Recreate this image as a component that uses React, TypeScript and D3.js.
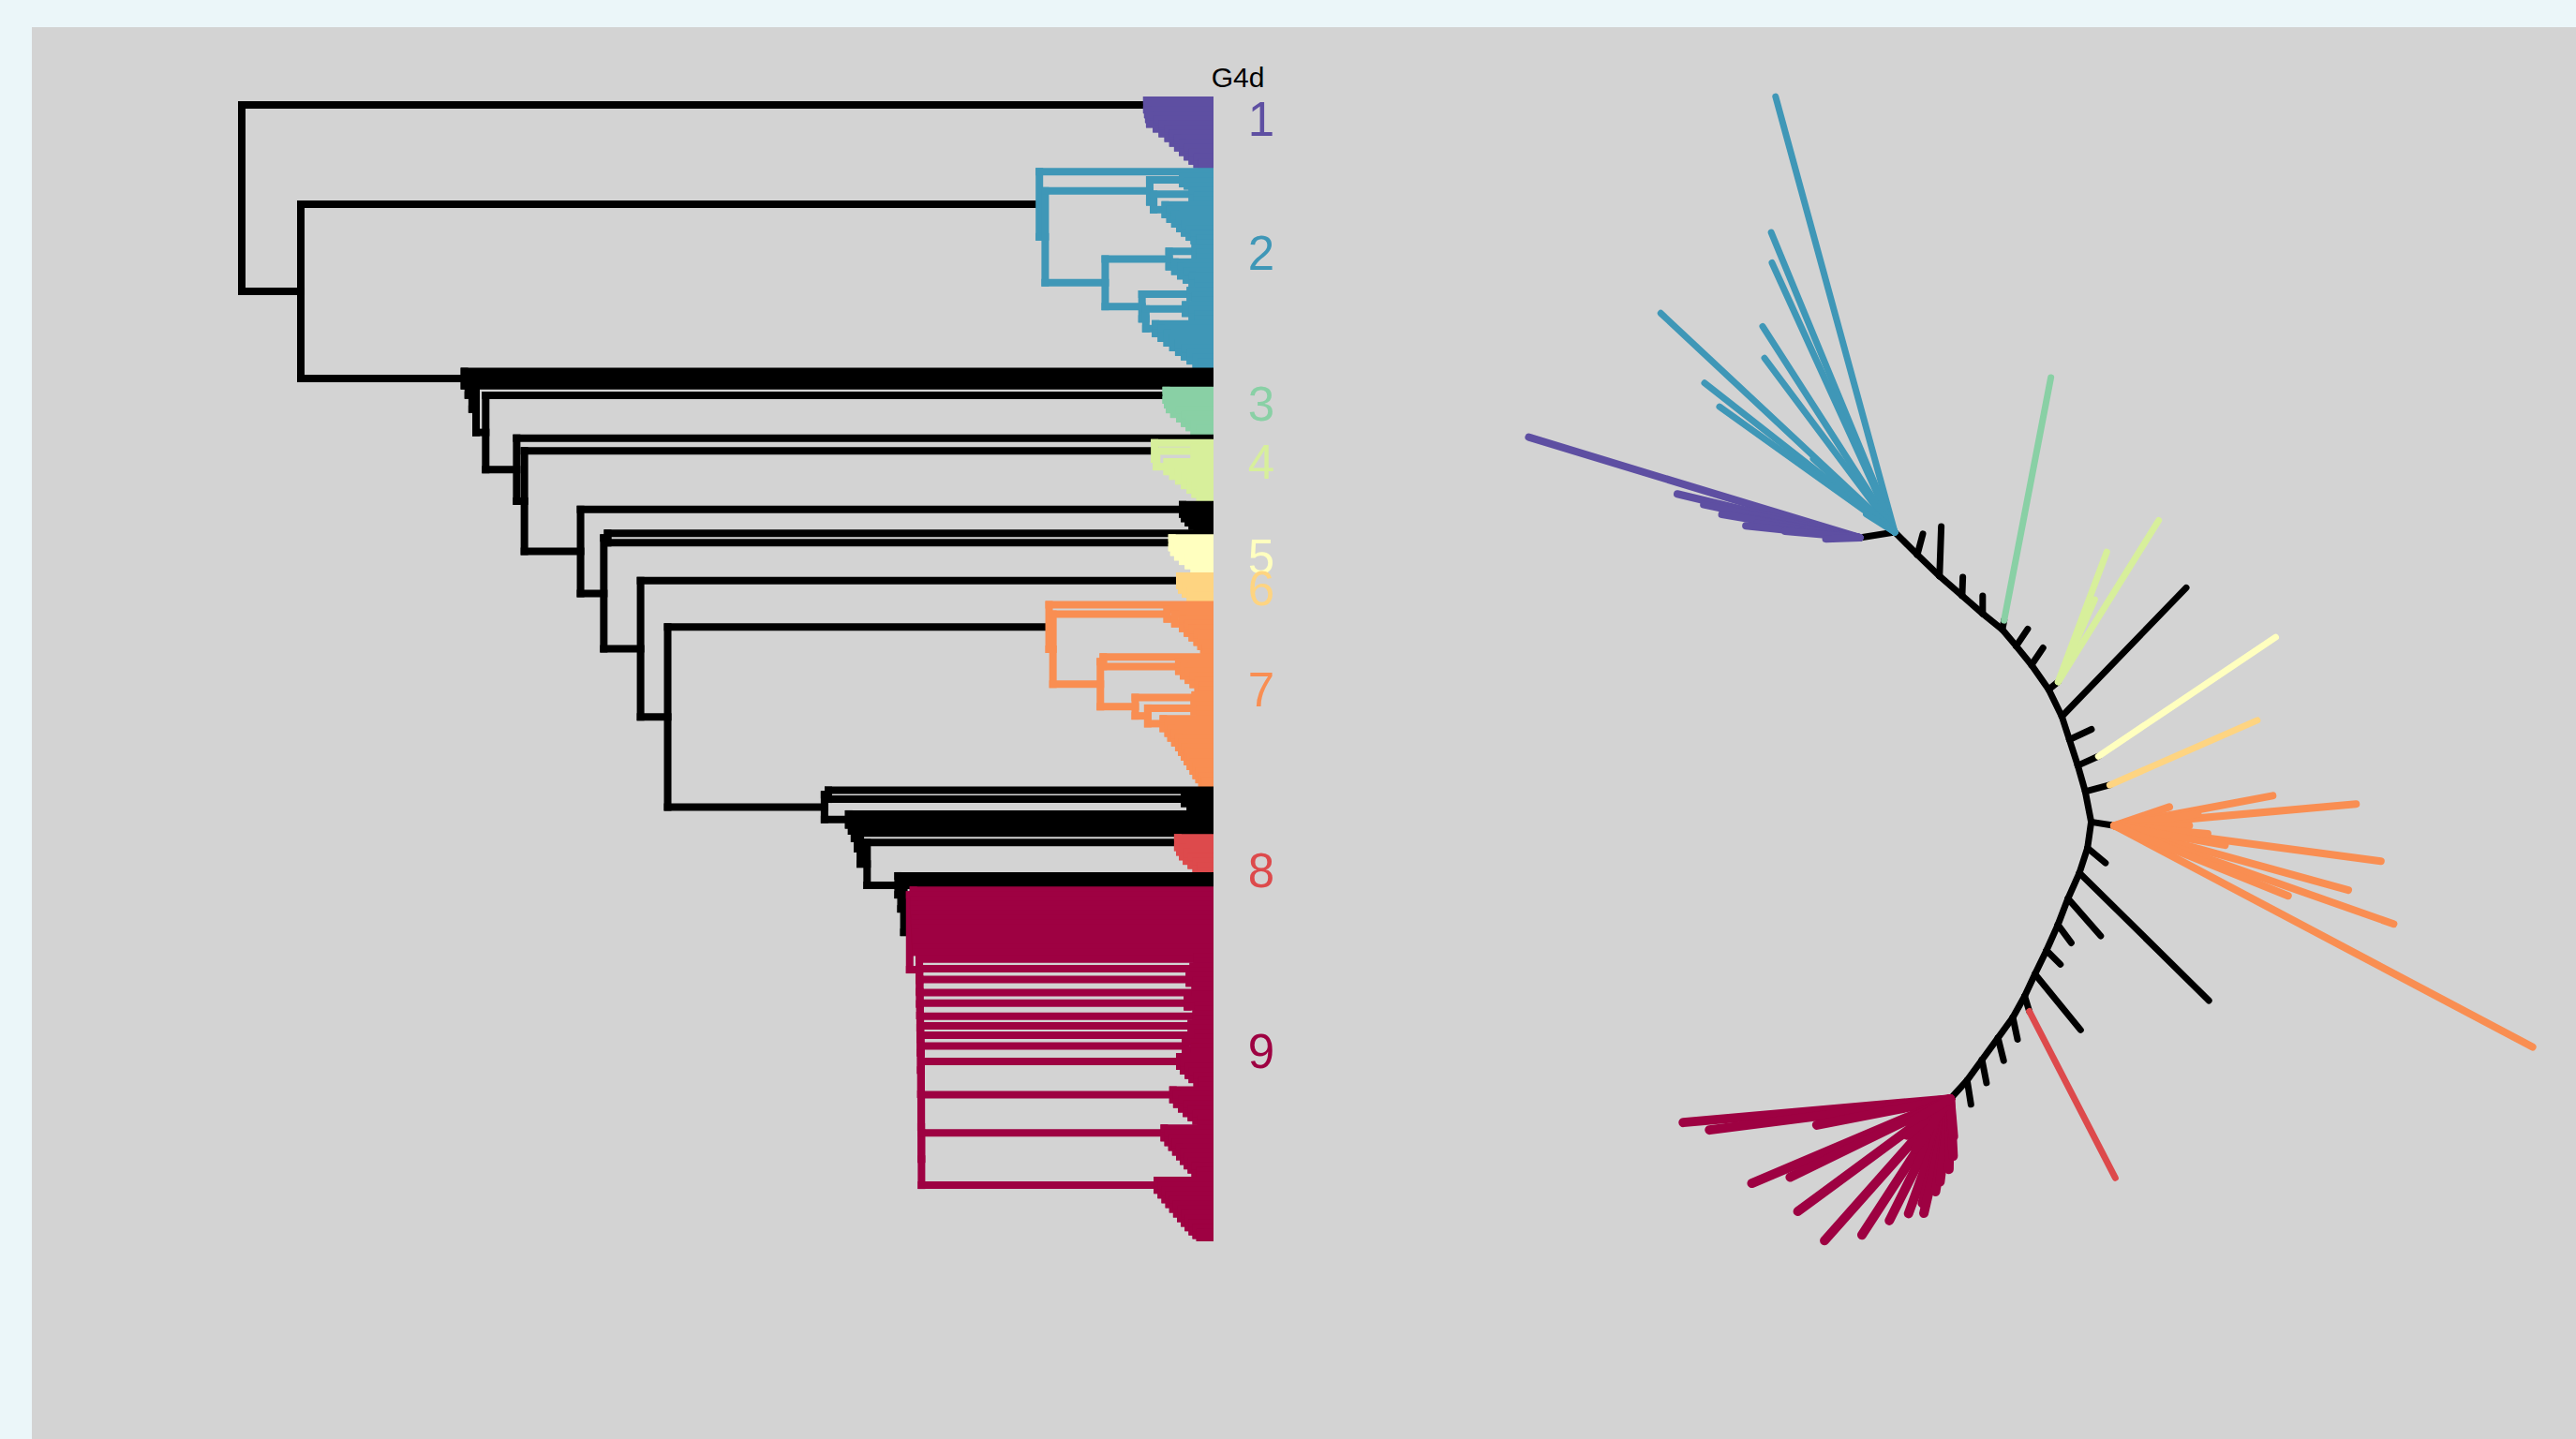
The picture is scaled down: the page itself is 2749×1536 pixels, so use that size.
import React, { useMemo } from 'react';
import * as d3 from 'd3';

// ---------------- DATA ----------------
const W = 2749;
const H = 1536;

// RColorBrewer "Spectral" (11 classes) – ramped to the 9 cluster colours
const spectral11 = ['#9E0142', '#D53E4F', '#F46D43', '#FDAE61', '#FEE08B', '#FFFFBF', '#E6F598', '#ABDDA4', '#66C2A5', '#3288BD', '#5E4FA2'];
const clusterNames = ['1', '2', '3', '4', '5', '6', '7', '8', '9'];
const panelTitle = 'G4d';
// label centre, expressed in leaf-order units
const labelLeafIndex = [3.9, 32.1, 63.8, 76.0, 95.9, 102.6, 123.8, 161.8, 199.8];

// ---- dendrogram merge heights (root = 100) ----
const spineHeights = [100, 93.9, 74.8, 71.6, 70.8, 65.0, 62.6, 62.2, 58.8, 56.0, 39.8, 39.4, 35.4];
const singletonRunA = [77.0, 76.6, 76.2, 75.8];
const singletonRunB = [37.3, 37.0, 36.7, 36.4, 36.1];
const singletonRunC = [32.2, 31.9, 31.6];

const c1Merges = [6.5, 6.4, 6.3, 6.2, 5.5, 4.9, 4.3, 3.8, 3.3, 2.8, 2.3, 1.8, 1.3, 0.8];
const c2Nodes = [17.6, 17.0, 6.2, 5.8, 10.8, 4.2, 7.0, 6.6];
const c2SubA1 = [2.8, 2.3];
const c2SubA2 = [1.8, 1.3];
const c2SubA3 = [4.6, 4.1, 3.6, 3.1, 2.6, 2.1, 1.6, 1.0];
const c2SubB1a = [1.5, 1.0];
const c2SubB1b = [3.6, 3.0, 2.4, 1.8, 1.2];
const c2SubB2a = [2.0, 1.5];
const c2SubB2b = [2.5, 1.8, 1.2];
const c2SubB2c = [5.6, 5.0, 4.4, 3.8, 3.2, 2.6, 2.0, 1.4, 0.8];
const c3Merges = [4.5, 4.35, 4.15, 3.7, 3.1, 2.6, 2.1, 1.6, 1.0];
const c4Nodes = [5.7, 5.5];
const c4SubA = [1.6, 1.2];
const c4SubB = [4.4, 3.8, 3.2, 2.6, 2.0, 1.5, 1.0, 0.5];
const blackCladeA = [2.8, 2.6, 2.2, 1.8, 1.3];
const c5Merges = [3.9, 3.7, 3.3, 2.8, 2.2, 1.6, 1.0];
const c6Merges = [3.1, 2.9, 2.5, 2.0, 1.3];
const c7Nodes = [16.6, 16.2, 4.4, 3.6, 11.3, 11.0, 7.7, 6.4, 4.8];
const c7SubA = [2.8, 2.3, 1.8, 1.3, 0.9, 0.6, 0.4];
const c7SubB = [3.2, 2.7, 2.2, 1.7, 1.2, 0.7];
const c7SubC = [1.5];
const c7SubD = [1.6, 1.0];
const c7SubE = [4.3, 4.0, 3.6, 3.2, 2.9, 2.6, 2.3, 2.0, 1.7, 1.4, 1.1, 0.8, 0.5];
const blackCladeB = [2.6, 2.0, 1.4];
const c8Merges = [3.3, 3.1, 2.8, 2.4, 1.9, 1.4, 0.9];
const c9Root = [31.0];
const c9Block = [30.62, 30.6, 30.57, 30.55, 30.52, 30.5, 30.47, 30.45, 30.42, 30.4, 30.37, 30.35, 30.32];
const c9Comb = [30.0, 29.98, 29.96, 29.94, 29.92, 29.9, 29.88, 29.86, 29.84, 29.82, 29.8, 29.78];
const c9Small = [[1.3], [1.7], [2.1, 1.4], [1.5], [2.3, 1.2], [1.4], [1.9], [1.2], [2.5, 1.6]];
const c9Large = [
  [3.1, 2.7, 2.2, 1.8, 1.3, 0.8],
  [3.8, 3.4, 2.9, 2.4, 1.9, 1.4, 0.9],
  [4.7, 4.3, 3.9, 3.5, 3.1, 2.7, 2.3, 1.9, 1.5, 1.0],
  [5.4, 5.0, 4.6, 4.2, 3.8, 3.4, 3.0, 2.6, 2.2, 1.8, 1.4, 1.0],
];

// ---- unrooted tree (branch lengths in units, angles in degrees, y downward) ----
const rtSpineLen = [3.4, 3.3, 3.2, 2.9, 2.7, 2.3, 2.6, 3.2, 3.2, 2.6, 2.9, 2.9, 3.3, 2.8, 2.8, 3.0, 3.0, 3.0, 2.8, 2.6, 2.6, 2.7, 2.9, 2.7, 2.7];
const rtSpineAng = [45, 44, 41, 41, 39, 50, 51, 55, 64, 72, 72, 74, 79, 98, 108, 114, 111, 114, 116, 115, 119, 126, 126, 126, 132];
const rtTickNode = [1, 2, 3, 4, 6, 7, 9, 10, 14, 15, 16, 17, 18, 19, 21, 22, 23, 24];
const rtTickAng = [-75, -88, -88, -90, -56, -56, -46, -25, 40, 44.6, 48.8, 53.6, 45, 50.8, 78, 76, 79, 81];
const rtTickLen = [2.3, 5.3, 2.0, 1.9, 2.2, 2.2, 19.1, 2.6, 2.5, 19.4, 5.3, 2.4, 2.1, 7.7, 2.4, 2.5, 2.5, 2.6];
const rtCladeNode = [0, 0, 5, 8, 11, 12, 13, 20, 25];
const rtStubAng = [171, 0, -79, -39, -24, -15, 9, 73, 0];
const rtStubLen = [3.8, 0, 1.0, 1.3, 2.4, 2.7, 2.5, 1.7, 0];
const rtCladeWidth = [8, 7, 7, 7, 7, 7, 8, 7, 10];
const rtTips1 = [[196.9, 36.9], [193.5, 20], [192, 17], [190, 13.5], [189.6, 14.9], [188, 11], [186, 12.2], [185, 8], [178, 3.6]];
const rtTips2 = [[-105.3, 48.2], [-112.4, 34.6], [-114.5, 31.6], [-122.7, 26.1], [-126.8, 23.2], [-136.9, 34.2], [-141.9, 25.8], [-144.4, 23.0], [-138, 11.7], [-139, 6.2], [-147.7, 3.6]];
const rtTips3 = [[-79.1, 26.4]];
const rtTips4 = [[-69.5, 14.8], [-58.1, 20.3], [-66.1, 9.6]];
const rtTips5 = [[-33.9, 22.8]];
const rtTips6 = [[-23.7, 17.2]];
const rtTips7 = [[-18.7, 6.2], [-10.7, 17.2], [-5.1, 25.9], [7.6, 28.7], [15.4, 25.9], [19.4, 31.6], [27.9, 50.5], [-8, 9], [0, 8], [5, 10], [10, 12], [22, 20]];
const rtTips8 = [[62.7, 20.0]];
const rtTips9 = [
  [175, 28.6], [172.7, 25.9], [169, 14.5], [157, 23.0], [154, 19], [143.6, 20.2], [131.6, 20.2], [123, 17.3], [116.6, 14.5],
  [110, 13], [105, 11.5], [103, 12.5], [99, 10], [97, 8.9], [91, 7.5], [87, 6.1], [85, 4], [140, 6], [125, 6.5], [150, 5],
];
const rtTips = [rtTips1, rtTips2, rtTips3, rtTips4, rtTips5, rtTips6, rtTips7, rtTips8, rtTips9];

// ---------------- TREE BUILDING ----------------
type TNode = { h: number; children?: TNode[]; cluster?: number };
const L = (): TNode => ({ h: 0 });
const N = (h: number, ...children: TNode[]): TNode => ({ h, children });
const ladder = (hs: number[], tail?: TNode): TNode => {
  let acc = tail ?? L();
  for (let i = hs.length - 1; i >= 0; i--) acc = N(hs[i], L(), acc);
  return acc;
};
const comb = (hs: number[], subs: TNode[]): TNode => {
  let acc = subs[subs.length - 1];
  for (let i = hs.length - 1; i >= 0; i--) acc = N(hs[i], subs[i], acc);
  return acc;
};
const tag = (t: TNode, k: number) => {
  t.cluster = k;
  return t;
};

function buildTree(): TNode {
  const c1 = tag(ladder(c1Merges), 1);
  const [h2root, h2split, h2A, h2A2, h2B, h2B1, h2B2, h2B2b] = c2Nodes;
  const c2A = N(h2A, ladder(c2SubA1), N(h2A2, ladder(c2SubA2), ladder(c2SubA3)));
  const c2B = N(h2B, N(h2B1, ladder(c2SubB1a), ladder(c2SubB1b)), N(h2B2, ladder(c2SubB2a), N(h2B2b, ladder(c2SubB2b), ladder(c2SubB2c))));
  const c2 = tag(N(h2root, L(), N(h2split, c2A, c2B)), 2);
  const c3 = tag(ladder(c3Merges), 3);
  const c4 = tag(N(c4Nodes[0], L(), N(c4Nodes[1], ladder(c4SubA), ladder(c4SubB))), 4);
  const bA = ladder(blackCladeA);
  const c5 = tag(ladder(c5Merges), 5);
  const c6 = tag(ladder(c6Merges), 6);
  const [h7root, h7split, h7A, h7A2, h7B, h7B1, h7C, h7D, h7E] = c7Nodes;
  const c7A = N(h7A, L(), N(h7A2, L(), ladder(c7SubA)));
  const c7E = N(h7E, L(), ladder(c7SubE));
  const c7C = N(h7C, ladder(c7SubC), N(h7D, ladder(c7SubD), c7E));
  const c7B = N(h7B, N(h7B1, L(), ladder(c7SubB)), c7C);
  const c7 = tag(N(h7root, L(), N(h7split, c7A, c7B)), 7);
  const bB = ladder(blackCladeB);
  const c8 = tag(ladder(c8Merges), 8);
  const c9 = tag(
    N(c9Root[0], ladder(c9Block), comb(c9Comb, [...c9Small.map((s) => ladder(s)), ...c9Large.map((s) => ladder(s))])),
    9
  );
  const [hRoot, hN1, hN2e, hN3, hN3b, hN4, hN5, hN5b, hN6, hN7, hN8, hN8b, hN9e] = spineHeights;
  const n10 = ladder(singletonRunC, c9);
  const n9 = ladder(singletonRunB, N(hN9e, c8, n10));
  const n8 = N(hN8, N(hN8b, L(), bB), n9);
  const n7 = N(hN7, c7, n8);
  const n6 = N(hN6, c6, n7);
  const n5 = N(hN5, N(hN5b, L(), c5), n6);
  const n4 = N(hN4, bA, n5);
  const n3 = N(hN3, L(), N(hN3b, c4, n4));
  const n2 = ladder(singletonRunA, N(hN2e, c3, n3));
  const n1 = N(hN1, c2, n2);
  return N(hRoot, c1, n1);
}

type Seg = { x1: number; y1: number; x2: number; y2: number; c: string; w?: number };

export default function App() {
  const colorRamp = d3.piecewise(d3.interpolateRgb, spectral11);
  const clusterColor = (k: number) => (k ? d3.color(colorRamp((9 - k) / 8))!.formatHex() : '#000000');

  const { segs, ys } = useMemo(() => {
    const root = d3.hierarchy(buildTree(), (d) => d.children);
    const leaves = root.leaves();
    const xS = d3.scaleLinear().domain([0, 100]).range([1291, 258]);
    const yS = d3.scaleLinear().domain([0, leaves.length - 1]).range([107, 1321]);
    const yPos = new Map<any, number>();
    leaves.forEach((l, i) => yPos.set(l, yS(i)));
    root.eachAfter((n) => {
      if (n.children) {
        const a = yPos.get(n.children[0])!;
        const b = yPos.get(n.children[n.children.length - 1])!;
        yPos.set(n, (a + b) / 2);
      }
    });
    const colOf = (n: d3.HierarchyNode<TNode>) => {
      const a = n.ancestors().find((p) => p.data.cluster);
      return clusterColor(a ? a.data.cluster! : 0);
    };
    const out: Seg[] = [];
    root.eachBefore((n) => {
      if (!n.children) return;
      const c = colOf(n);
      const x = xS(n.data.h);
      out.push({ x1: x, y1: yPos.get(n.children[0])!, x2: x, y2: yPos.get(n.children[n.children.length - 1])!, c });
      n.children.forEach((ch) => {
        const y = yPos.get(ch)!;
        out.push({ x1: x, y1: y, x2: xS(ch.data.h), y2: y, c });
      });
    });
    return { segs: out, ys: yS };
  }, []);

  // unrooted tree layout
  const rt = useMemo(() => {
    const ux = d3.scaleLinear().domain([0, 10]).range([2022, 2122]);
    const uy = d3.scaleLinear().domain([0, 10]).range([568, 668]);
    const rad = Math.PI / 180;
    const pts: [number, number][] = [[0, 0]];
    rtSpineLen.forEach((len, i) => {
      const [px, py] = pts[pts.length - 1];
      pts.push([px + len * Math.cos(rtSpineAng[i] * rad), py + len * Math.sin(rtSpineAng[i] * rad)]);
    });
    const black: Seg[] = [];
    const colored: Seg[] = [];
    const seg = (a: [number, number], b: [number, number], c: string, w = 7): Seg => ({
      x1: ux(a[0]), y1: uy(a[1]), x2: ux(b[0]), y2: uy(b[1]), c, w,
    });
    for (let i = 0; i < pts.length - 1; i++) black.push(seg(pts[i], pts[i + 1], '#000'));
    rtTickNode.forEach((ni, i) => {
      const p = pts[ni];
      const q: [number, number] = [p[0] + rtTickLen[i] * Math.cos(rtTickAng[i] * rad), p[1] + rtTickLen[i] * Math.sin(rtTickAng[i] * rad)];
      black.push(seg(p, q, '#000'));
    });
    rtCladeNode.forEach((ni, k) => {
      const p = pts[ni];
      const s: [number, number] = [p[0] + rtStubLen[k] * Math.cos(rtStubAng[k] * rad), p[1] + rtStubLen[k] * Math.sin(rtStubAng[k] * rad)];
      if (rtStubLen[k] > 0) black.push(seg(p, s, '#000'));
      const col = clusterColor(k + 1);
      rtTips[k].forEach(([a, len]) => {
        const t: [number, number] = [s[0] + len * Math.cos(a * rad), s[1] + len * Math.sin(a * rad)];
        colored.push(seg(s, t, col, rtCladeWidth[k]));
      });
    });
    return { black, colored };
  }, []);

  const numSize = 51;

  return (
    <div style={{ position: 'fixed', left: 0, top: 0, width: W, height: H, overflow: 'hidden' }}>
      <svg width={W} height={H} viewBox={`0 0 ${W} ${H}`} style={{ display: 'block' }}>
        <rect x={0} y={0} width={W} height={H} fill="#EBF6F9" />
        <rect x={34} y={29} width={W - 34} height={H - 29} fill="#D3D3D3" />
        <g strokeLinecap="square" strokeWidth={8} fill="none">
          {segs.map((s, i) => (
            <line key={i} x1={s.x1} y1={s.y1} x2={s.x2} y2={s.y2} stroke={s.c} />
          ))}
        </g>
        <text x={1321} y={93} fontFamily="Liberation Sans, Arial, sans-serif" fontSize={30} textAnchor="middle" fill="#000">
          {panelTitle}
        </text>
        {clusterNames.map((name, k) => (
          <text
            key={name}
            x={1346}
            y={ys(labelLeafIndex[k]) + numSize * 0.358}
            fontFamily="Liberation Sans, Arial, sans-serif"
            fontSize={numSize}
            textAnchor="middle"
            fill={clusterColor(k + 1)}
          >
            {name}
          </text>
        ))}
        <g strokeLinecap="round" fill="none">
          {rt.black.map((s, i) => (
            <line key={'b' + i} x1={s.x1} y1={s.y1} x2={s.x2} y2={s.y2} stroke={s.c} strokeWidth={s.w} />
          ))}
          {rt.colored.map((s, i) => (
            <line key={'c' + i} x1={s.x1} y1={s.y1} x2={s.x2} y2={s.y2} stroke={s.c} strokeWidth={s.w} />
          ))}
        </g>
      </svg>
    </div>
  );
}
